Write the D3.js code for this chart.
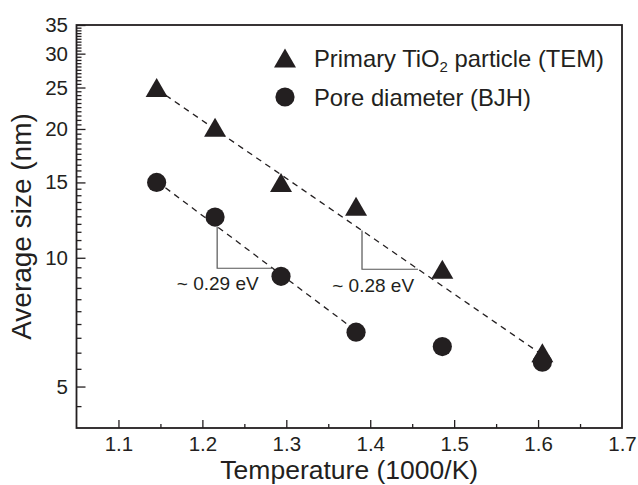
<!DOCTYPE html>
<html>
<head>
<meta charset="utf-8">
<script src="https://cdn.jsdelivr.net/npm/d3@7"></script>
<style>
  body { margin: 0; background: #fff; }
  svg { display: block; }
  text { font-family: "Liberation Sans", Arial, sans-serif; fill: #231f20; }
</style>
</head>
<body>
<svg id="chart" width="638" height="485"></svg>
<script>
// values
const tempX   = [1.1455, 1.2151, 1.2937, 1.3831, 1.4859, 1.6051];   // 1000/K
const temSize = [25.0, 20.2, 15.0, 13.2, 9.4, 6.0];               // primary TiO2 particle (TEM), nm
const bjhSize = [15.0, 12.45, 9.05, 6.7, 6.2, 5.7];               // pore diameter (BJH), nm

// dashed fit lines (end points)
const fitTemX = [1.1455, 1.6051], fitTemY = [24.8, 5.93];
const fitBjhX = [1.1455, 1.3831], fitBjhY = [15.1, 6.75];

// slope markers
const slopeX0 = [1.2176, 1.3902];
const slopeX1 = [1.2843, 1.4569];
const slopeY  = [9.45, 9.40];
const slopeLabel  = ["~ 0.29 eV", "~ 0.28 eV"];
const slopeLabelX = [1.2183, 1.4035];
const slopeLabelY = [8.4, 8.31];

const xTicks = [1.1, 1.2, 1.3, 1.4, 1.5, 1.6, 1.7];
const xMinor = [1.15, 1.25, 1.35, 1.45, 1.55, 1.65];
const yTicks = [5, 10, 15, 20, 25, 30, 35];

const svg = d3.select('#chart');
const ink = '#231f20';

const x = d3.scaleLinear().domain([1.05, 1.7]).range([76.5, 622]);
const y = d3.scaleLog().domain([4, 35]).range([428, 25]);

// minor ticks every 0.5 nm on the log axis
const yMinor = d3.range(4.5, 35, 0.5).filter(v => v % 5 !== 0);

// axes, ticks pointing inward
const gx = svg.append('g').attr('transform', 'translate(0,428)');
gx.call(d3.axisBottom(x).tickValues(xMinor).tickSize(-4).tickFormat(''));
gx.select('.domain').remove();
const gx2 = svg.append('g').attr('transform', 'translate(0,428)');
gx2.call(d3.axisBottom(x).tickValues(xTicks).tickSize(-8).tickPadding(8.5).tickFormat(d3.format('.1f')));
gx2.select('.domain').remove();
gx2.selectAll('.tick').filter(d => d === 1.7).select('line').remove();

const gy = svg.append('g').attr('transform', 'translate(76.5,0)');
gy.call(d3.axisLeft(y).tickValues(yMinor).tickSize(-5).tickFormat(''));
gy.select('.domain').remove();
const gy2 = svg.append('g').attr('transform', 'translate(76.5,0)');
gy2.call(d3.axisLeft(y).tickValues(yTicks).tickSize(-9).tickPadding(8.5).tickFormat(d3.format('d')));
gy2.select('.domain').remove();

svg.selectAll('.tick line').attr('stroke', ink).attr('stroke-width', 1.3);
svg.selectAll('.tick text').attr('font-size', 20.5).attr('fill', ink)
  .attr('font-family', '"Liberation Sans", Arial, sans-serif');

// frame
svg.append('rect')
  .attr('x', x(1.05)).attr('y', y(35))
  .attr('width', x(1.7) - x(1.05)).attr('height', y(4) - y(35))
  .attr('fill', 'none').attr('stroke', ink).attr('stroke-width', 1.8);

// axis titles
svg.append('text')
  .attr('x', (x(1.05) + x(1.7)) / 2).attr('y', 479)
  .attr('text-anchor', 'middle').attr('font-size', 26.5)
  .text('Temperature (1000/K)');
svg.append('text')
  .attr('transform', `translate(31,${(y(4) + y(35)) / 2}) rotate(-90)`)
  .attr('text-anchor', 'middle').attr('font-size', 28)
  .text('Average size (nm)');

// dashed fit lines
const line = d3.line().x(d => x(d[0])).y(d => y(d[1]));
[[fitTemX, fitTemY], [fitBjhX, fitBjhY]].forEach(([fx, fy]) => {
  svg.append('path')
    .attr('d', line(fx.map((v, i) => [v, fy[i]])))
    .attr('fill', 'none').attr('stroke', ink)
    .attr('stroke-width', 1.3).attr('stroke-dasharray', '6,5');
});

// point on a fit line (straight in log space)
function onFit(fx, fy, xv) {
  const t = (xv - fx[0]) / (fx[1] - fx[0]);
  return Math.exp(Math.log(fy[0]) + t * (Math.log(fy[1]) - Math.log(fy[0])));
}

// slope markers
const fits = [[fitBjhX, fitBjhY], [fitTemX, fitTemY]];
slopeX0.forEach((x0, i) => {
  const top = onFit(fits[i][0], fits[i][1], x0);
  svg.append('path')
    .attr('d', line([[x0, top], [x0, slopeY[i]], [slopeX1[i], slopeY[i]]]))
    .attr('fill', 'none').attr('stroke', '#555').attr('stroke-width', 1.2);
  svg.append('text')
    .attr('x', x(slopeLabelX[i])).attr('y', y(slopeLabelY[i]))
    .attr('text-anchor', 'middle').attr('font-size', 19)
    .text(slopeLabel[i]);
});

// markers
const triPath = 'M0,-9.5L11,9.5L-11,9.5Z';
svg.append('g').selectAll('path')
  .data(tempX.map((v, i) => [v, temSize[i]]))
  .join('path')
  .attr('transform', d => `translate(${x(d[0])},${y(d[1])})`)
  .attr('d', triPath).attr('fill', ink);

svg.append('g').selectAll('circle')
  .data(tempX.map((v, i) => [v, bjhSize[i]]))
  .join('circle')
  .attr('cx', d => x(d[0])).attr('cy', d => y(d[1]))
  .attr('r', 9.6).attr('fill', ink);

// legend
const lg = svg.append('g');
lg.append('path').attr('transform', 'translate(285,58)').attr('d', triPath).attr('fill', ink);
lg.append('circle').attr('cx', 285).attr('cy', 97).attr('r', 9.6).attr('fill', ink);
const t1 = lg.append('text').attr('x', 314).attr('y', 66.5).attr('font-size', 23.8);
t1.append('tspan').text('Primary TiO');
t1.append('tspan').attr('font-size', 15).attr('dy', 5).text('2');
t1.append('tspan').attr('dy', -5).text(' particle (TEM)');
lg.append('text').attr('x', 314).attr('y', 105.5).attr('font-size', 23.8).text('Pore diameter (BJH)');
</script>
</body>
</html>
